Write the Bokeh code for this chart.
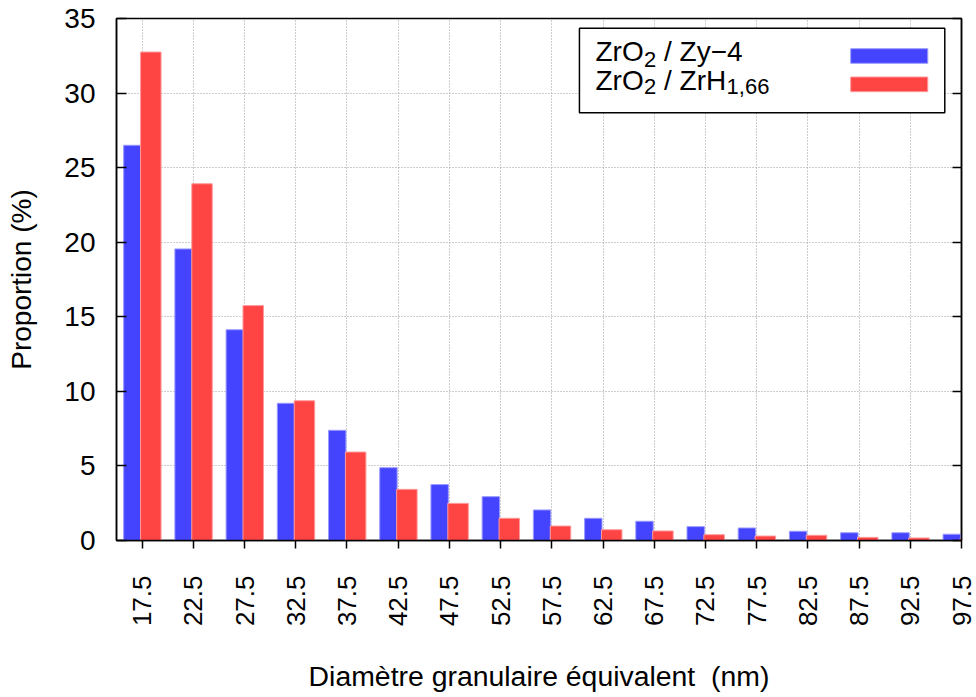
import math
from bokeh.plotting import figure
from bokeh.models import (ColumnDataSource, FixedTicker, LinearAxis, Range1d,
                          BoxAnnotation, Label)
from bokeh.transform import dodge
from bokeh.embed import file_html
from bokeh.resources import INLINE

# ---------------- data ----------------
categories = [17.5, 22.5, 27.5, 32.5, 37.5, 42.5, 47.5, 52.5, 57.5,
              62.5, 67.5, 72.5, 77.5, 82.5, 87.5, 92.5, 97.5]
tick_labels = ["17.5", "22.5", "27.5", "32.5", "37.5", "42.5", "47.5", "52.5",
               "57.5", "62.5", "67.5", "72.5", "77.5", "82.5", "87.5", "92.5", "97.5"]
zro2_zy4 = [26.5, 19.55, 14.13, 9.2, 7.39, 4.88, 3.75, 2.94, 2.05,
            1.49, 1.29, 0.93, 0.84, 0.62, 0.52, 0.52, 0.42]
zro2_zrh = [32.75, 23.92, 15.75, 9.37, 5.93, 3.43, 2.49, 1.49, 0.97,
            0.72, 0.64, 0.39, 0.30, 0.35, 0.21, 0.17, 0.12]
y_ticks = [0, 5, 10, 15, 20, 25, 30, 35]

BLUE = "#4444ff"
RED = "#ff4444"
FONT = "Liberation Sans"

src = ColumnDataSource(dict(x=categories, zy4=zro2_zy4, zrh=zro2_zrh))

p = figure(width=976, height=697, output_backend="svg", toolbar_location=None,
           x_range=Range1d(15, 97.5), y_range=Range1d(0, 35),
           min_border_left=116, min_border_right=15, min_border_top=18,
           min_border_bottom=157)

p.vbar(x=dodge("x", -0.95), top="zy4", width=1.7, source=src,
       fill_color=BLUE, line_color="#9a9aff", line_width=1)
p.vbar(x=dodge("x", 0.85), top="zrh", width=2.0, source=src,
       fill_color=RED, line_color="#ff9a9a", line_width=1)

# axes
xa = p.xaxis[0]
xa.ticker = FixedTicker(ticks=categories)
xa.major_label_overrides = {c: t for c, t in zip(categories, tick_labels)}
xa.major_label_orientation = math.pi / 2
xa.major_tick_in = 0
xa.major_tick_out = 8
xa.minor_tick_line_color = None
xa.major_label_standoff = 27
xa.major_label_text_font_size = "26px"
xa.axis_label = "Diamètre granulaire équivalent\u00a0 (nm)"
xa.axis_label_standoff = 31
xa.axis_label_text_font_size = "28.4px"

ya = p.yaxis[0]
ya.ticker = FixedTicker(ticks=y_ticks)
ya.major_tick_in = 10
ya.major_tick_out = 0
ya.minor_tick_line_color = None
ya.major_label_standoff = 21
ya.major_label_text_font_size = "28px"
ya.axis_label = "Proportion (%)"
ya.axis_label_standoff = 24
ya.axis_label_text_font_size = "28px"

for ax in (xa, ya):
    ax.major_label_text_font = FONT
    ax.major_label_text_color = "black"
    ax.axis_label_text_font = FONT
    ax.axis_label_text_font_style = "normal"
    ax.axis_label_text_color = "black"
    ax.axis_line_color = "black"
    ax.axis_line_width = 1.5
    ax.major_tick_line_color = "black"
    ax.major_tick_line_width = 1.5

ra = LinearAxis(ticker=FixedTicker(ticks=y_ticks), major_tick_in=9,
                major_tick_out=0, major_label_text_font_size="1px",
                major_label_text_color=None,
                major_label_standoff=0, axis_line_color="black",
                axis_line_width=1.5, major_tick_line_width=1.5,
                minor_tick_line_color=None)
p.add_layout(ra, "right")

p.xgrid.ticker = FixedTicker(ticks=categories)
p.ygrid.ticker = FixedTicker(ticks=y_ticks)
for g in (p.xgrid[0], p.ygrid[0]):
    g.grid_line_color = "#9a9a9a"
    g.grid_line_dash = "1 2"
    g.grid_line_width = 1

p.outline_line_color = "black"
p.outline_line_width = 1.5
p.background_fill_color = "white"
p.border_fill_color = "white"

# ---------------- legend (gnuplot style: text left, swatch right) -------------
def gx(px):
    return 15 + (px - 116.5) / (844.2 / 82.5)

def gy(py):
    return (539.5 - py) / (522.0 / 35.0)

p.add_layout(BoxAnnotation(left=gx(579), right=gx(944), top=gy(27.3),
                           bottom=gy(111.7), fill_color="white", fill_alpha=1,
                           line_color="black", line_width=1.5, line_alpha=1))
p.add_layout(BoxAnnotation(left=gx(850), right=gx(927), top=gy(47.7),
                           bottom=gy(62.3), fill_color=BLUE, fill_alpha=1,
                           line_color="#9a9aff", line_width=1, line_alpha=1))
p.add_layout(BoxAnnotation(left=gx(850), right=gx(927), top=gy(76),
                           bottom=gy(90.7), fill_color=RED, fill_alpha=1,
                           line_color="#ff9a9a", line_width=1, line_alpha=1))

def lab(px, py, txt, size):
    p.add_layout(Label(x=gx(px), y=gy(py), text=txt, text_font=FONT,
                       text_font_size=size, text_color="black",
                       text_baseline="alphabetic", text_align="left"))

LFS = "28px"
SFS = "22px"
lab(595, 50.7, "ZrO", LFS)
lab(643.5, 58.0, "2", SFS)
lab(663.5, 50.7, "/ Zy\u22124", LFS)
lab(595, 79.0, "ZrO", LFS)
lab(643.5, 85.7, "2", SFS)
lab(663.5, 79.0, "/ ZrH", LFS)
lab(726, 85.7, "1,66", SFS)

open("out.html", "w").write(file_html(p, INLINE))
